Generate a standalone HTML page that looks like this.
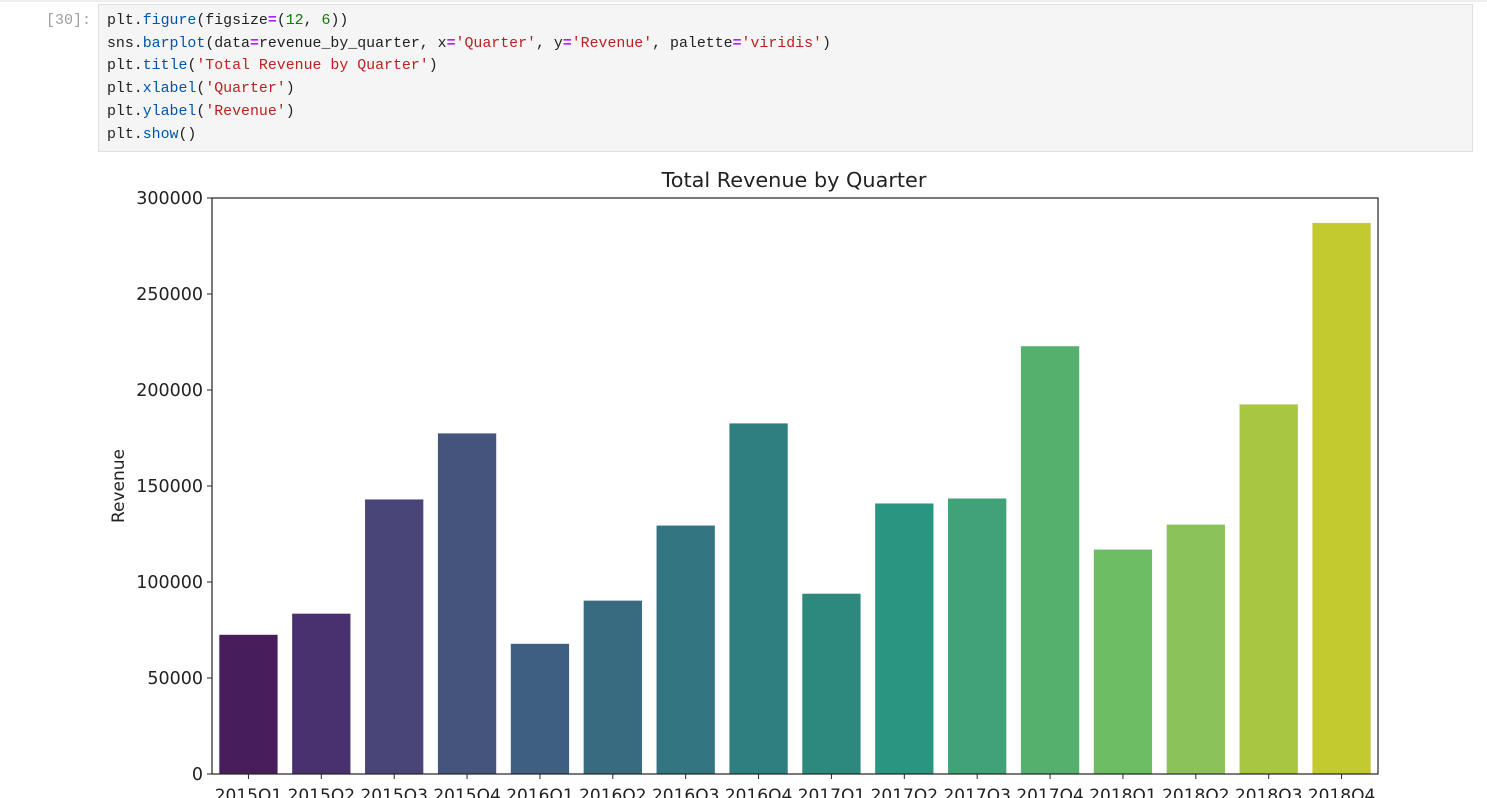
<!DOCTYPE html>
<html><head><meta charset="utf-8"><style>
body{margin:0;width:1487px;height:798px;background:#fff;overflow:hidden;position:relative;font-family:"Liberation Sans",sans-serif}
#prompt{position:absolute;left:46px;top:12px;font:15px "Liberation Mono",monospace;color:#9e9e9e}
#cell{position:absolute;left:98px;top:4px;width:1375px;height:148px;background:#f5f5f5;border:1px solid #e0e0e0;box-sizing:border-box}
#code{position:absolute;left:8px;top:5px;margin:0;font:14.9px/22.7px "Liberation Mono",monospace;color:#212121;white-space:pre}
.k{color:#0055aa}.s{color:#ba2121}.o{color:#aa22ff;font-weight:bold}.n{color:#008000}
#topline{position:absolute;left:0;top:0;width:1487px;height:2px;background:#eee}
</style></head><body>
<div id="topline"></div>
<div id="prompt">[30]:</div>
<div id="cell"><pre id="code">plt.<span class="k">figure</span>(figsize<span class="o">=</span>(<span class="n">12</span>, <span class="n">6</span>))
sns.<span class="k">barplot</span>(data<span class="o">=</span>revenue_by_quarter, x<span class="o">=</span><span class="s">'Quarter'</span>, y<span class="o">=</span><span class="s">'Revenue'</span>, palette<span class="o">=</span><span class="s">'viridis'</span>)
plt.<span class="k">title</span>(<span class="s">'Total Revenue by Quarter'</span>)
plt.<span class="k">xlabel</span>(<span class="s">'Quarter'</span>)
plt.<span class="k">ylabel</span>(<span class="s">'Revenue'</span>)
plt.<span class="k">show</span>()</pre></div>
<svg id="chart" width="1487" height="798" style="position:absolute;left:0;top:0"></svg>
<script>
const categories=["2015Q1","2015Q2","2015Q3","2015Q4","2016Q1","2016Q2","2016Q3","2016Q4","2017Q1","2017Q2","2017Q3","2017Q4","2018Q1","2018Q2","2018Q3","2018Q4"];
const revenue=[72500,83500,143000,177400,67800,90300,129400,182600,93900,140900,143500,222800,116900,129900,192500,287000];
const yTicks=[0,50000,100000,150000,200000,250000,300000];
const colors=["#471d5b","#48316e","#4a4579","#45547d","#3e5f80","#386a80","#337581","#2d7f80","#2d887e","#2a9580","#41a278","#55b06e","#6dbd65","#8bc35a","#a7c642","#c2ca30"];
const svg=document.getElementById('chart');const NS="http://www.w3.org/2000/svg";
const L=212,R=1378,T=198,B=774,yMax=300000;
const y=v=>B-(v/yMax)*(B-T);
const step=(R-L)/categories.length;
const x=i=>L+step*(i+0.5);
function mk(t,a){const e=document.createElementNS(NS,t);for(const k in a)e.setAttribute(k,a[k]);svg.appendChild(e);return e;}
categories.forEach((c,i)=>{
 const bw=step*0.8;
 const r=mk('rect',{x:x(i)-bw/2,y:y(revenue[i]),width:bw,height:B-y(revenue[i]),fill:colors[i]});
 
 
 const tk=mk('line',{x1:x(i),x2:x(i),y1:B,y2:B+5,stroke:'#222','stroke-width':1});
 
 
 const t=mk('text',{x:x(i),y:B+27,'text-anchor':'middle','font-size':'17','font-family':'DejaVu Sans, sans-serif',fill:'#222'});
 t.textContent=c;
 
 
});
yTicks.forEach(v=>{
 const tk=mk('line',{x1:L-5,x2:L,y1:y(v),y2:y(v),stroke:'#222','stroke-width':1});
 
 
 const t=mk('text',{x:L-9,y:y(v)+6,'text-anchor':'end','font-size':'17.5','font-family':'DejaVu Sans, sans-serif',fill:'#222'});
 t.textContent=v;
 
 
});
const fr=mk('rect',{x:L,y:T,width:R-L,height:B-T,fill:'none',stroke:'#222','stroke-width':1.2});


const ti=mk('text',{x:(L+R)/2-1,y:T-11,'text-anchor':'middle','font-size':'20.8','font-family':'DejaVu Sans, sans-serif',fill:'#222'});
ti.textContent='Total Revenue by Quarter';


const yl=mk('text',{x:0,y:0,'text-anchor':'middle','font-size':'17','font-family':'DejaVu Sans, sans-serif',fill:'#222',transform:'translate(124,'+((T+B)/2)+') rotate(-90)'});
yl.textContent='Revenue';


</script>
</body></html>
